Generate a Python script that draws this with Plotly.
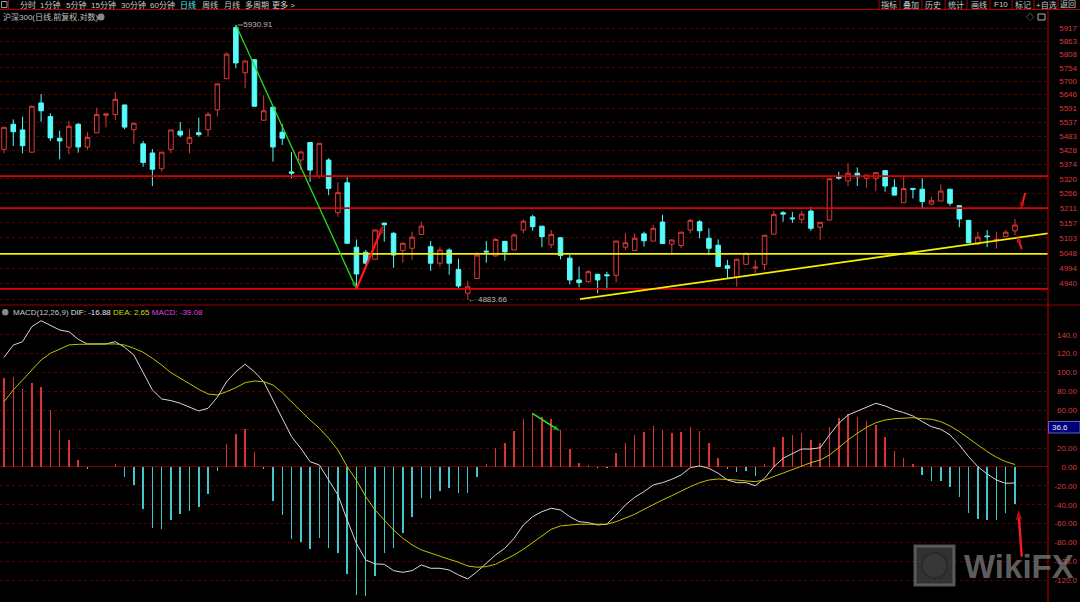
import math
import plotly.graph_objects as go

# ---------------- data ----------------
open_ = [5432, 5529, 5507, 5421, 5613, 5559, 5475, 5440, 5529, 5441,
         5496, 5564, 5567, 5605, 5508, 5453, 5418, 5358, 5432, 5502,
         5455, 5496, 5508, 5586, 5710, 5920, 5734, 5787, 5545, 5596,
         5498, 5346, 5391, 5458, 5330, 5391, 5194, 5305, 5069, 5051,
         5026, 5156, 5119, 5057, 5065, 5115, 5071, 5012, 5059, 4990,
         4907, 4958, 5055, 5038, 5090, 5059, 5131, 5179, 5145, 5078,
         5103, 5030, 4953, 4947, 4973, 4971, 4969, 5069, 5057, 5117,
         5091, 5160, 5080, 5075, 5131, 5161, 5101, 5076, 5003, 4962,
         5008, 4995, 5008, 5116, 5194, 5175, 5170, 5200, 5141, 5167,
         5328, 5312, 5341, 5322, 5322, 5351, 5288, 5231, 5284, 5281,
         5226, 5237, 5281, 5220, 5166, 5080, 5109, 5095, 5107, 5128]
high = [5520, 5548, 5559, 5602, 5648, 5572, 5504, 5542, 5534, 5498,
        5594, 5571, 5656, 5606, 5534, 5464, 5433, 5422, 5508, 5538,
        5510, 5555, 5577, 5690, 5817, 5930.91, 5783, 5790, 5644, 5597,
        5529, 5421, 5423, 5459, 5456, 5398, 5307, 5328, 5097, 5059,
        5133, 5157, 5123, 5087, 5125, 5161, 5091, 5071, 5065, 5028,
        4950, 5051, 5091, 5101, 5091, 5119, 5170, 5186, 5146, 5131,
        5104, 5041, 5000, 4988, 4974, 4982, 5092, 5119, 5119, 5125,
        5149, 5186, 5096, 5124, 5171, 5167, 5137, 5097, 5024, 5027,
        5050, 5024, 5113, 5201, 5200, 5197, 5200, 5216, 5160, 5321,
        5347, 5379, 5363, 5335, 5344, 5352, 5318, 5334, 5285, 5322,
        5253, 5299, 5282, 5221, 5167, 5125, 5131, 5125, 5131, 5171]
low = [5417, 5445, 5417, 5419, 5539, 5464, 5394, 5414, 5419, 5430,
       5495, 5517, 5546, 5510, 5453, 5366, 5293, 5347, 5417, 5478,
       5417, 5481, 5481, 5559, 5709, 5752, 5671, 5598, 5544, 5385,
       5449, 5322, 5353, 5309, 5322, 5259, 5179, 5082, 4924, 5006,
       5024, 5089, 4996, 5014, 5024, 5114, 4985, 5000, 4971, 4922,
       4883.66, 4957, 5014, 5035, 5021, 5058, 5119, 5128, 5069, 5065,
       5026, 4938, 4927, 4944, 4907, 4920, 4944, 5059, 5056, 5071,
       5090, 5081, 5049, 5065, 5119, 5101, 5041, 4999, 4959, 4930,
       5007, 4976, 4988, 5115, 5161, 5157, 5155, 5128, 5095, 5166,
       5316, 5293, 5293, 5287, 5274, 5272, 5258, 5230, 5247, 5207,
       5222, 5236, 5219, 5141, 5084, 5077, 5069, 5064, 5106, 5113]
close = [5517, 5500, 5446, 5600, 5582, 5476, 5464, 5521, 5441, 5478,
         5567, 5570, 5627, 5518, 5533, 5382, 5356, 5421, 5507, 5487,
         5477, 5489, 5568, 5689, 5810, 5774, 5782, 5600, 5582, 5441,
         5475, 5341, 5422, 5353, 5455, 5284, 5268, 5083, 4974, 5012,
         5131, 5150, 5041, 5083, 5105, 5145, 5012, 5059, 5012, 4932,
         4929, 5041, 5052, 5097, 5052, 5113, 5163, 5143, 5107, 5115,
         5039, 4953, 4944, 4982, 4953, 4968, 5091, 5085, 5101, 5092,
         5137, 5082, 5095, 5123, 5166, 5128, 5065, 5000, 4994, 5026,
         5047, 4998, 5112, 5188, 5189, 5172, 5189, 5137, 5159, 5320,
         5323, 5341, 5328, 5334, 5343, 5293, 5259, 5284, 5281, 5235,
         5238, 5274, 5229, 5171, 5085, 5105, 5107, 5097, 5123, 5149]

macd_hist = [94.5, 95.6, 82.9, 88.9, 84.7, 60.7, 39.2, 28.6, 7.8, -2.5,
             0.3, 0.2, 3.5, -10.2, -18.7, -44.1, -64.2, -66, -56.1, -49.7,
             -46.2, -42, -28.9, -4.2, 24, 34.9, 39.9, 15.9, -2.5, -35.7,
             -51.1, -76.5, -79, -87.1, -75.1, -85.7, -90.7, -113.2, -135.4, -136.5,
             -115, -91.4, -86.1, -70.2, -53.3, -33.2, -33.9, -25, -21.9, -27.9,
             -27.9, -10.2, 3.2, 20.4, 25.7, 38.1, 51.1, 56.8, 53.2, 50.8,
             39.2, 18.7, 4.6, 2.5, -1.5, -1.5, 15.1, 25.7, 33.9, 37.4,
             43.4, 39.5, 36.3, 37.4, 42, 38.1, 25.7, 9.2, -2.5, -4.9,
             -3.9, -9.2, 3.2, 20.8, 31.4, 33.9, 36.3, 28.6, 25.7, 42.6,
             51.5, 55.8, 53.2, 49, 44.1, 32.1, 16.9, 9.8, 3.2, -8.5,
             -14.8, -14.8, -20.8, -31.4, -48.4, -55, -56.1, -56.1, -49, -39.08]
dif = [116, 129, 132.6, 148.5, 154.8, 150.3, 145, 143.2, 135.1, 130.2,
       130.2, 130.2, 132.6, 126.7, 118.5, 100.8, 81.5, 72, 70.2, 67.4,
       63.2, 59.3, 62.1, 73.8, 90.3, 100.8, 108.7, 100.8, 90.3, 70.9,
       53.2, 32.1, 19.8, 5.6, 2.1, -13.8, -29.6, -56.1, -81, -98.4,
       -102.6, -103, -109.7, -111.5, -109.7, -103.7, -107.2, -107.2, -109, -114.3,
       -118.5, -110.8, -101.9, -93.1, -86, -75.4, -61.4, -52.6, -47.3, -43.7,
       -45.5, -52.6, -57.9, -58.9, -61.4, -60.6, -50.8, -40.2, -32.1, -26.1,
       -19, -16.6, -13, -8.5, -0.7, 1.1, -1.4, -6.7, -13.8, -16.6,
       -16.6, -19.8, -12, 0.3, 9.2, 14.5, 19, 19, 20.4, 33.9,
       46.2, 55, 59.3, 62.8, 67.4, 64.6, 60.3, 57.5, 54, 48,
       42.6, 39.9, 33.9, 23.3, 10.9, 0.3, -7.4, -13.8, -17.3, -16.88]
dea = [69.1, 81.5, 92, 102.6, 113.2, 120.3, 124.5, 129.1, 129.8, 130.2,
       130.2, 130.2, 130.2, 129.1, 125.6, 121.4, 115, 107.9, 99.8, 93.9,
       87.8, 82.2, 77.2, 76.2, 79.7, 83.9, 89.2, 91, 90.3, 86.8,
       78.6, 69.1, 58.5, 49.7, 41, 30.4, 18, 0.3, -14, -31.4,
       -45.5, -56.1, -66.7, -75.4, -82.5, -87.8, -91.3, -94.9, -97.7, -100.8,
       -104.8, -106.1, -105.5, -103, -98.4, -93.1, -87.1, -80.1, -73, -65.9,
       -62.4, -61.4, -60.6, -60.6, -60.6, -60.6, -57.9, -54.3, -50.1, -44.8,
       -39.5, -34.9, -30.4, -25.4, -20.8, -16.6, -13.8, -12.7, -13, -13.8,
       -14.8, -15.5, -13.8, -10.2, -6, -2.5, 1.4, 4.6, 7.4, 12.7,
       20.4, 28.6, 35.7, 42, 46.9, 49.7, 51.1, 51.9, 52.2, 51.1,
       50.5, 48, 43.4, 37.4, 30.4, 23.3, 16.2, 10.3, 5.6, 2.65]

price_ticks = [5917, 5863, 5808, 5754, 5700, 5646, 5591, 5537, 5483, 5428,
               5374, 5320, 5266, 5211, 5157, 5103, 5048, 4994, 4940, 4886]
macd_ticks = [140, 120, 100, 80, 60, 40, 20, 0, -20, -40, -60, -80, -100, -120]
# the 40 label is hidden under the cursor-value box in the reference
macd_tick_text = ["140.0", "120.0", "100.0", "80.00", "60.00", "", "20.00", "0.00",
                  "-20.00", "-40.00", "-60.00", "-80.00", "-100.0", "-120.0"]

red_levels = [5330, 5211, 4922]
yellow_levels = [5045]
trend_x = [62.1, 112.6]
trend_y = [4886, 5119]

peak_idx, peak_val = 25, 5930.91
trough_idx, trough_val = 50, 4883.66

toolbar_left = ["分时", "1分钟", "5分钟", "15分钟", "30分钟", "60分钟", "日线", "周线", "月线", "多周期", "更多 >"]
toolbar_right = ["指标", "叠加", "历史", "统计", "画线", "F10", "标记", "+自选", "返回"]
title_text = "沪深300(日线,前复权,对数)"
dif_label, dea_label, macd_label = -16.88, 2.65, -39.08
cursor_value = "36.6"

# ---------------- styling / layout helpers ----------------
W, H = 1080, 602
AXIS_PX = 1048
XD = AXIS_PX / W
XR = [-0.431, 112.56]
FONT = "Liberation Sans, Noto Sans CJK SC, sans-serif"
UP = "#e0393a"
DN = "#54fcfc"
GRID = "#560000"
AXC = "#d83a3a"


def px(x):
    return x / W


def py(y):
    return 1 - y / H


n = len(open_)
idx = list(range(n))

fig = go.Figure()

fig.add_trace(go.Candlestick(
    x=idx, open=open_, high=high, low=low, close=close,
    increasing=dict(line=dict(color=UP, width=1), fillcolor="#000000"),
    decreasing=dict(line=dict(color=DN, width=1), fillcolor=DN),
    whiskerwidth=0, xaxis="x", yaxis="y", hoverinfo="skip", showlegend=False))

for lv in red_levels:
    fig.add_trace(go.Scatter(x=XR, y=[lv, lv], mode="lines", line=dict(color="#e00000", width=1.6),
                             xaxis="x", yaxis="y", hoverinfo="skip", showlegend=False))
for lv in yellow_levels:
    fig.add_trace(go.Scatter(x=XR, y=[lv, lv], mode="lines", line=dict(color="#f0f000", width=1.6),
                             xaxis="x", yaxis="y", hoverinfo="skip", showlegend=False))
fig.add_trace(go.Scatter(x=trend_x, y=trend_y, mode="lines", line=dict(color="#f0f000", width=1.8),
                         xaxis="x", yaxis="y", hoverinfo="skip", showlegend=False))


def arrow(xs, ys, color, width, size, xa, ya):
    fig.add_trace(go.Scatter(
        x=xs, y=ys, mode="lines+markers", line=dict(color=color, width=width),
        marker=dict(symbol=["circle", "arrow"], size=[0, size], angleref="previous",
                    color=color, line=dict(width=0)),
        xaxis=xa, yaxis=ya, hoverinfo="skip", showlegend=False))


arrow([peak_idx, 38], [peak_val, 4922], "#22dd22", 1.3, 7, "x", "y")
arrow([38, 40.9], [4922, 5149], "#ff1a1a", 2.2, 9, "x", "y")
arrow([110.1, 109.6], [5267, 5204], "#ff1a1a", 2, 8, "x", "y")
arrow([109.73, 109.19], [5062, 5113], "#ff1a1a", 2, 8, "x", "y")

# peak / trough labels
fig.add_trace(go.Scatter(x=[peak_idx + 0.2, peak_idx + 0.8], y=[peak_val, peak_val], mode="lines",
                         line=dict(color="#9a9a9a", width=1), xaxis="x", yaxis="y",
                         hoverinfo="skip", showlegend=False))
fig.add_trace(go.Scatter(x=[peak_idx + 0.8], y=[peak_val], mode="text", text=[f"{peak_val:.2f}"],
                         textposition="middle right", textfont=dict(color="#b8b8b8", size=8, family=FONT),
                         xaxis="x", yaxis="y", hoverinfo="skip", showlegend=False))
fig.add_trace(go.Scatter(x=[trough_idx], y=[trough_val], mode="text", text=[f"← {trough_val:.2f}"],
                         textposition="middle right", textfont=dict(color="#b8b8b8", size=8, family=FONT),
                         xaxis="x", yaxis="y", hoverinfo="skip", showlegend=False))

# MACD panel
bar_colors = ["#d83232" if v >= 0 else "#3fc6cf" for v in macd_hist]
fig.add_trace(go.Bar(x=idx, y=macd_hist, width=0.16, marker=dict(color=bar_colors, line=dict(width=0)),
                     xaxis="x2", yaxis="y2", hoverinfo="skip", showlegend=False))
fig.add_trace(go.Scatter(x=idx, y=dif, mode="lines", line=dict(color="#d8d8d8", width=1),
                         xaxis="x2", yaxis="y2", hoverinfo="skip", showlegend=False))
fig.add_trace(go.Scatter(x=idx, y=dea, mode="lines", line=dict(color="#c4c400", width=1),
                         xaxis="x2", yaxis="y2", hoverinfo="skip", showlegend=False))
arrow([56.96, 59.95], [56.8, 38.1], "#22ee22", 1.6, 7, "x2", "y2")
arrow([109.73, 109.36], [-94.9, -45.5], "#ff1a1a", 2.4, 10, "x2", "y2")

shapes = []
ann = []


def hline(y, x0, x1, color, w=1):
    shapes.append(dict(type="line", xref="paper", yref="paper", x0=px(x0), x1=px(x1), y0=py(y), y1=py(y),
                       line=dict(color=color, width=w)))


def vline(x, y0, y1, color, w=1):
    shapes.append(dict(type="line", xref="paper", yref="paper", x0=px(x), x1=px(x), y0=py(y0), y1=py(y1),
                       line=dict(color=color, width=w)))


def text(x, y, s, color, size=8, anchor="left", bold=False):
    ann.append(dict(xref="paper", yref="paper", x=px(x), y=py(y), text=(f"<b>{s}</b>" if bold else s),
                    showarrow=False, xanchor=anchor, yanchor="middle",
                    font=dict(color=color, size=size, family=FONT)))


# toolbar
hline(9.5, 0, W, "#b00000", 1)
vline(8.5, 0, 9.5, "#b00000", 1)
shapes.append(dict(type="rect", xref="paper", yref="paper", x0=px(1.5), x1=px(7), y0=py(7.5), y1=py(1.5),
                   line=dict(color="#9a9a9a", width=1), fillcolor="rgba(0,0,0,0)"))
left_x = [18, 38, 64, 89, 119, 148, 178, 200, 222, 243, 270]
for lab, xx in zip(toolbar_left, left_x):
    text(xx, 4.8, lab, "#3ff6f6" if lab == "日线" else "#c8c8c8", 8)
right_sep = [879, 900, 922, 945, 967, 990, 1012, 1034, 1058]
right_c = [889, 911, 933, 956, 979, 1001, 1023, 1046, 1068]
for s in right_sep:
    vline(s, 0, 9.5, "#b00000", 1)
for lab, xx in zip(toolbar_right, right_c):
    text(xx, 4.8, lab, "#c8c8c8", 8, "center")

text(1, 17, title_text, "#c0c0c0", 8)
shapes.append(dict(type="circle", xref="paper", yref="paper", x0=px(97.5), x1=px(104.5), y0=py(20.5),
                   y1=py(13.5), line=dict(width=0), fillcolor="#8a8a8a"))
text(1030, 17, "◇", "#b0b0b0", 8, "center")
shapes.append(dict(type="rect", xref="paper", yref="paper", x0=px(1038), x1=px(1045), y0=py(20), y1=py(14),
                   line=dict(color="#b0b0b0", width=1), fillcolor="rgba(0,0,0,0)"))

# panel frame lines
vline(AXIS_PX, 9.5, H, "#c00000", 1)
hline(305, 0, W, "#9a0000", 1)

# MACD legend
shapes.append(dict(type="circle", xref="paper", yref="paper", x0=px(2), x1=px(8.5), y0=py(315.5),
                   y1=py(309), line=dict(width=0), fillcolor="#8a8a8a"))
ann.append(dict(xref="paper", yref="paper", x=px(11), y=py(312.3), xanchor="left", yanchor="middle",
                showarrow=False, font=dict(size=8, family=FONT, color="#c8c8c8"),
                text=(f"MACD(12,26,9) <span style='color:#e0e0e0'>DIF: {dif_label:.2f}</span> "
                      f"<span style='color:#d8d800'>DEA: {dea_label:.2f}</span> "
                      f"<span style='color:#e040e0'>MACD: {macd_label:.2f}</span>")))

# cursor value box on the MACD axis
shapes.append(dict(type="rect", xref="paper", yref="paper", x0=px(AXIS_PX + 0.5), x1=px(W), y0=py(433),
                   y1=py(421.5), line=dict(color="#6060c0", width=1), fillcolor="#00007a"))
text(AXIS_PX + 1.5, 427.3, cursor_value, "#e8e8e8", 8)

# watermark
shapes.append(dict(type="rect", xref="paper", yref="paper", x0=px(915), x1=px(954), y0=py(585), y1=py(546),
                   line=dict(color="rgba(110,110,110,0.75)", width=3), fillcolor="rgba(90,90,90,0.55)"))
shapes.append(dict(type="circle", xref="paper", yref="paper", x0=px(922), x1=px(947), y0=py(578), y1=py(553),
                   line=dict(color="rgba(40,40,40,0.8)", width=2), fillcolor="rgba(60,60,60,0.6)"))
text(962, 566, "WikiFX", "rgba(120,120,120,0.8)", 33, "left", bold=True)

fig.update_layout(
    width=W, height=H, margin=dict(l=0, r=0, t=0, b=0),
    paper_bgcolor="#000000", plot_bgcolor="#000000", showlegend=False,
    bargap=0, shapes=shapes, annotations=ann,
    xaxis=dict(domain=[0, XD], range=XR, showgrid=False, zeroline=False, showticklabels=False,
               ticks="", showline=False, rangeslider=dict(visible=False), anchor="y"),
    xaxis2=dict(domain=[0, XD], range=XR, showgrid=False, zeroline=False, showticklabels=False,
                ticks="", showline=False, anchor="y2"),
    yaxis=dict(domain=[py(303), py(10)], type="log", range=[math.log10(4873), math.log10(5994)],
               side="right", anchor="free", position=1.0, ticklabelposition="inside",
               tickvals=price_ticks, ticktext=[str(v) for v in price_ticks],
               tickfont=dict(color=AXC, size=8, family=FONT), ticks="",
               showgrid=True, gridcolor=GRID, griddash="dot", gridwidth=1, zeroline=False, showline=False),
    yaxis2=dict(domain=[0, py(307)], range=[-142.9, 169.3],
                side="right", anchor="free", position=1.0, ticklabelposition="inside",
                tickvals=macd_ticks, ticktext=macd_tick_text,
                tickfont=dict(color=AXC, size=8, family=FONT), ticks="",
                showgrid=True, gridcolor=GRID, griddash="dot", gridwidth=1,
                zeroline=True, zerolinecolor="#7a0000", zerolinewidth=1, showline=False),
)

fig.write_html("out.html", config={"displayModeBar": False, "staticPlot": True},
               post_script="document.body.style.margin='0';document.body.style.overflow='hidden';"
                           "document.body.style.background='#000';")
